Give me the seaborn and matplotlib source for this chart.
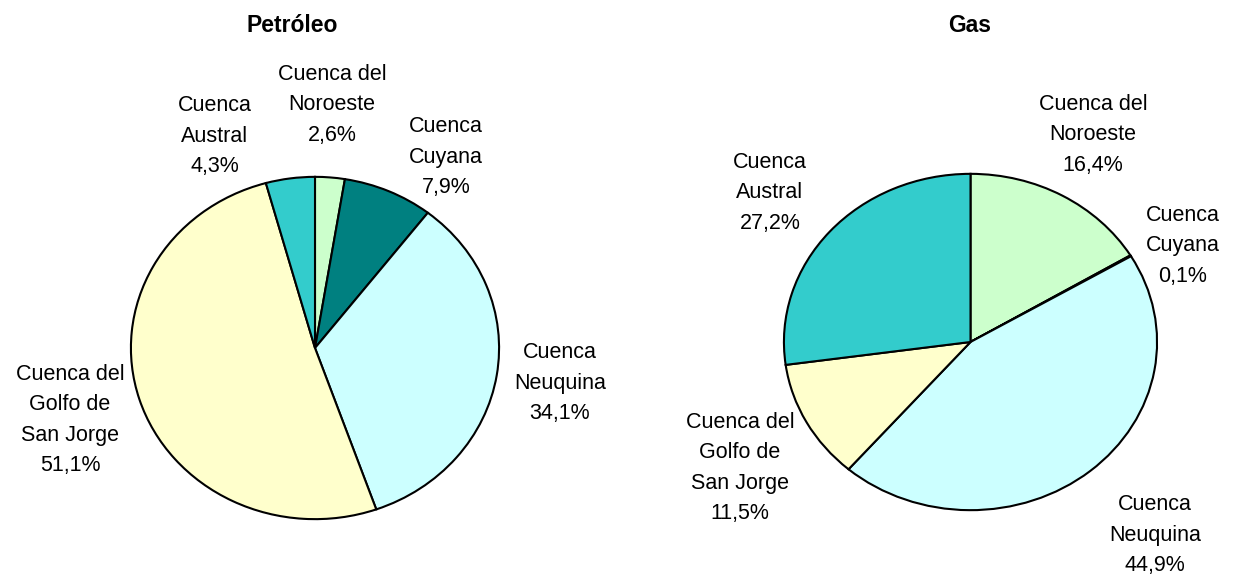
import matplotlib
matplotlib.use("Agg")
import matplotlib.pyplot as plt
import seaborn as sns

sns.set_theme(style="white")
plt.rcParams['font.family'] = ['Liberation Sans', 'DejaVu Sans']
plt.rcParams['text.color'] = 'black'

basins = ["Cuenca del\nNoroeste", "Cuenca\nCuyana", "Cuenca\nNeuquina",
          "Cuenca del\nGolfo de\nSan Jorge", "Cuenca\nAustral"]
petroleo = [2.6, 7.9, 34.1, 51.1, 4.3]
gas = [16.4, 0.1, 44.9, 11.5, 27.2]
colors = ["#CCFFCC", "#008080", "#CCFFFF", "#FFFFCC", "#33CCCC"]

W, H = 1233, 576
fig = plt.figure(figsize=(W / 100, H / 100), dpi=100)

def px_axes(x0, y0, x1, y1):
    return fig.add_axes([x0 / W, 1 - y1 / H, (x1 - x0) / W, (y1 - y0) / H])

def label_text(name, v):
    return f"{name}\n{v:.1f}%".replace('.', ',')

def draw(ax, values, title, title_xy, label_pos):
    ax.pie(values, colors=colors, startangle=90, counterclock=False,
           wedgeprops=dict(edgecolor="black", linewidth=1.5), radius=1)
    ax.set_aspect('auto')
    ax.set_xlim(-1.005, 1.005)
    ax.set_ylim(-1.005, 1.005)
    ax.axis('off')
    fig.text(title_xy[0] / W, 1 - title_xy[1] / H, title, ha='center', va='center',
             fontsize=16.5, fontweight='bold', color='black')
    for name, v, (x, y) in zip(basins, values, label_pos):
        fig.text(x / W, 1 - y / H, label_text(name, v), ha='center', va='center',
                 fontsize=15.5, linespacing=1.58, color='black')

ax1 = px_axes(130, 176, 500, 520)
draw(ax1, petroleo, "Petróleo", (292, 25),
     [(332, 105), (446, 157), (560, 383), (70, 420), (215, 136)])

ax2 = px_axes(783, 173, 1158, 511)
draw(ax2, gas, "Gas", (970, 25),
     [(1093, 135), (1183, 246), (1155, 535), (740, 468), (770, 193)])

fig.savefig("out.png", dpi=100)
